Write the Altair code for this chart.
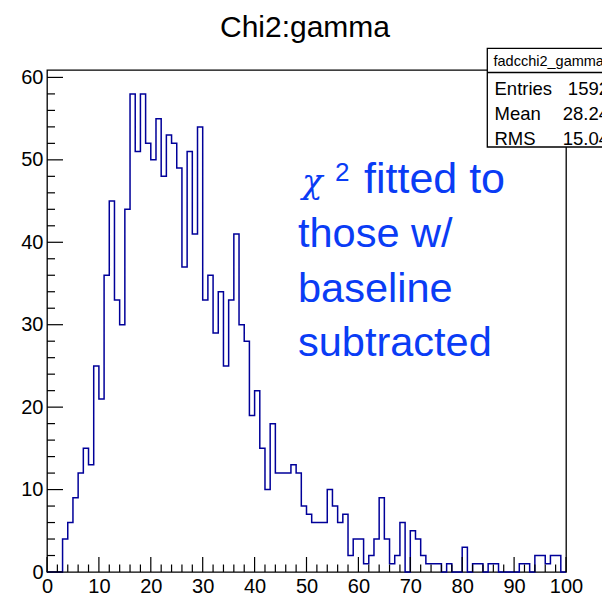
import altair as alt
import pandas as pd

# ---- data ----
counts = [0, 0, 0, 4, 6, 9, 12, 15, 13, 25,
          21, 36, 45, 33, 30, 44, 58, 51, 58, 52,
          50, 55, 48, 53, 52, 49, 37, 51, 41, 54,
          33, 36, 29, 34, 25, 33, 41, 30, 28, 19,
          22, 15, 10, 18, 12, 12, 12, 13, 12, 8,
          7, 6, 6, 6, 10, 8, 6, 7, 2, 4,
          4, 1, 2, 4, 9, 4, 1, 2, 6, 0,
          5, 4, 2, 1, 1, 1, 0, 1, 0, 0,
          3, 0, 1, 1, 0, 1, 1, 0, 0, 0,
          0, 1, 1, 0, 2, 2, 1, 2, 2, 0]
x_major = [0, 10, 20, 30, 40, 50, 60, 70, 80, 90, 100]
y_major = [0, 10, 20, 30, 40, 50, 60]
title_text = "Chi2:gamma"
stats_name = "fadcchi2_gamma"
stats_labels = ["Entries", "Mean", "RMS"]
stats_values = ["1592", "28.24", "15.04"]
note_lines = ["those w/", "baseline", "subtracted"]

W, H = 519, 502
PL, PT = 47, 70
FONT = "Liberation Sans"
BLUE_TXT = "#0a3cf5"
HIST = "#000099"

edges = list(range(len(counts) + 1))
hist_df = pd.DataFrame({"x": edges, "y": counts + [counts[-1]]})

xs = alt.Scale(domain=[0, 100], nice=False, zero=False)
ys = alt.Scale(domain=[0, 60.9], nice=False)

hist = alt.Chart(hist_df).mark_line(
    interpolate="step-after", color=HIST, strokeWidth=1.5
).encode(
    x=alt.X("x:Q", scale=xs,
            axis=alt.Axis(values=x_major, title=None, ticks=False, domain=False,
                          grid=False, labelFont=FONT, labelFontSize=20,
                          labelColor="black", labelBaseline="alphabetic",
                          labelPadding=20, labelFlush=False)),
    y=alt.Y("y:Q", scale=ys,
            axis=alt.Axis(values=y_major, title=None, ticks=False, domain=False,
                          grid=False, labelFont=FONT, labelFontSize=20,
                          labelColor="black", labelAlign="right",
                          labelBaseline="middle", labelPadding=4)),
)

minor_x = [v for v in range(0, 101, 2) if v % 10 != 0]
minor_y = [v for v in range(0, 61, 2) if v % 10 != 0]

xt_major = alt.Chart(pd.DataFrame({"x": x_major})).mark_rule(color="black", strokeWidth=1.2).encode(
    x=alt.X("x:Q", scale=xs), y=alt.value(H), y2=alt.value(H - 15))
xt_minor = alt.Chart(pd.DataFrame({"x": minor_x})).mark_rule(color="black", strokeWidth=1.2).encode(
    x=alt.X("x:Q", scale=xs), y=alt.value(H), y2=alt.value(H - 7.5))
yt_major = alt.Chart(pd.DataFrame({"y": y_major})).mark_rule(color="black", strokeWidth=1.2).encode(
    y=alt.Y("y:Q", scale=ys), x=alt.value(0), x2=alt.value(16))
yt_minor = alt.Chart(pd.DataFrame({"y": minor_y})).mark_rule(color="black", strokeWidth=1.2).encode(
    y=alt.Y("y:Q", scale=ys), x=alt.value(0), x2=alt.value(8))

one = pd.DataFrame({"a": [0]})

title = alt.Chart(one).mark_text(
    text=title_text, font=FONT, fontSize=30, align="center", baseline="alphabetic", color="black"
).encode(x=alt.value(305 - PL), y=alt.value(36.5 - PT))

# stats box
box = alt.Chart(one).mark_rect(fill="white", stroke="black", strokeWidth=1.3).encode(
    x=alt.value(487.3 - PL), x2=alt.value(640 - PL),
    y=alt.value(48.3 - PT), y2=alt.value(147 - PT))
box_sep = alt.Chart(one).mark_rule(color="black", strokeWidth=1.3).encode(
    x=alt.value(487.3 - PL), x2=alt.value(640 - PL), y=alt.value(72.5 - PT))
box_name = alt.Chart(one).mark_text(
    text=stats_name, font=FONT, fontSize=14.5, align="left", baseline="alphabetic", color="black"
).encode(x=alt.value(493.5 - PL), y=alt.value(66 - PT))

stats_df = pd.DataFrame({
    "lab": stats_labels, "val": stats_values,
    "yy": [95 - PT, 120 - PT, 144.5 - PT],
})
stats_lab = alt.Chart(stats_df).mark_text(
    font=FONT, fontSize=18.5, align="left", baseline="alphabetic", color="black"
).encode(x=alt.value(494.5 - PL), y=alt.Y("yy:Q", scale=None), text="lab:N")
stats_val = alt.Chart(stats_df).mark_text(
    font=FONT, fontSize=18.5, align="right", baseline="alphabetic", color="black"
).encode(x=alt.value(609 - PL), y=alt.Y("yy:Q", scale=None), text="val:N")

# annotation
chi = alt.Chart(one).mark_text(
    text="χ", font="DejaVu Serif", fontStyle="italic", fontSize=34, align="left",
    baseline="alphabetic", color=BLUE_TXT
).encode(x=alt.value(302 - PL), y=alt.value(192.7 - PT))
sup = alt.Chart(one).mark_text(
    text="2", font=FONT, fontSize=26, align="left", baseline="alphabetic", color=BLUE_TXT
).encode(x=alt.value(335 - PL), y=alt.value(181 - PT))
first = alt.Chart(one).mark_text(
    text="fitted to", font=FONT, fontSize=43, align="left", baseline="alphabetic", color=BLUE_TXT
).encode(x=alt.value(364 - PL), y=alt.value(192.7 - PT))
note_df = pd.DataFrame({"t": note_lines, "yy": [247 - PT, 302 - PT, 356 - PT]})
notes = alt.Chart(note_df).mark_text(
    font=FONT, fontSize=41.5, align="left", baseline="alphabetic", color=BLUE_TXT
).encode(x=alt.value(298 - PL), y=alt.Y("yy:Q", scale=None), text="t:N")

chart = alt.layer(
    hist, xt_major, xt_minor, yt_major, yt_minor,
    title, box, box_sep, box_name, stats_lab, stats_val,
    chi, sup, first, notes
).properties(
    width=W, height=H,
    autosize=alt.AutoSizeParams(type="none"),
    padding={"left": PL, "top": PT, "right": 602 - PL - W, "bottom": 597 - PT - H},
    background="white",
).configure_view(stroke="black", strokeWidth=1.3)

chart.save("out.html", embed_options={"renderer": "svg", "actions": False})
